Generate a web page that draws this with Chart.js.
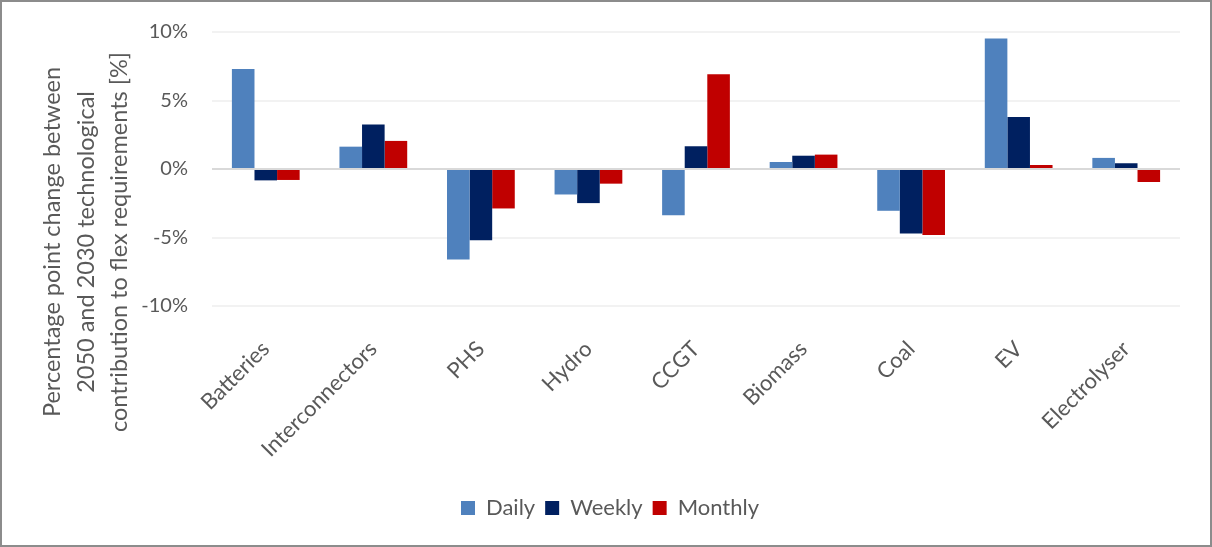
<!DOCTYPE html>
<html>
<head>
<meta charset="utf-8">
<script src="https://cdn.jsdelivr.net/npm/chart.js@4"></script>
<style>
  html, body { margin: 0; padding: 0; background: #fff; }
  #wrap {
    position: absolute; left: 0; top: 0;
    width: 1208px; height: 543px;
    border: 2px solid #8c8c8c;
  }
</style>
</head>
<body>
<div id="wrap"><canvas id="bar-chart" width="1208" height="543"></canvas></div>
<script>
// categories and series (percentage points)
const technologies = ["Batteries", "Interconnectors", "PHS", "Hydro", "CCGT", "Biomass", "Coal", "EV", "Electrolyser"];
const daily = [7.3, 1.63, -6.6, -1.86, -3.37, 0.51, -3.05, 9.52, 0.81];
const weekly = [-0.83, 3.25, -5.2, -2.49, 1.66, 0.97, -4.71, 3.79, 0.42];
const monthly = [-0.8, 2.05, -2.88, -1.07, 6.91, 1.05, -4.81, 0.29, -0.95];
const yTitle = [
  "Percentage point change between",
  "2050 and 2030 technological",
  "contribution to flex requirements [%]",
];

const textColor = "#595959";
const fontFamily = "Lato, 'Open Sans', sans-serif";

// y axis title drawn by hand so it can sit lower than the plot centre, like the original
const yTitlePlugin = {
  id: "yTitle",
  afterDraw(chart) {
    const ctx = chart.ctx;
    ctx.save();
    ctx.fillStyle = textColor;
    ctx.font = "23.5px " + fontFamily;
    ctx.textAlign = "center";
    ctx.textBaseline = "middle";
    const xs = [50, 84, 117];
    yTitle.forEach((line, i) => {
      ctx.save();
      ctx.translate(xs[i], 240);
      ctx.rotate(-Math.PI / 2);
      ctx.fillText(line, 0, 0);
      ctx.restore();
    });
    ctx.restore();
  },
};

const contenedorBarChart = document.querySelector("#bar-chart").getContext("2d");

const barChart = new Chart(contenedorBarChart, {
  type: "bar",
  data: {
    labels: technologies,
    datasets: [
      { label: "Daily", data: daily, backgroundColor: "#4F81BD" },
      { label: "Weekly", data: weekly, backgroundColor: "#002060" },
      { label: "Monthly", data: monthly, backgroundColor: "#C00000" },
    ],
  },
  plugins: [yTitlePlugin],
  options: {
    responsive: false,
    animation: false,
    layout: { padding: { left: 8, right: 0, top: 0, bottom: 16 } },
    datasets: { bar: { categoryPercentage: 0.63, barPercentage: 1.0 } },
    plugins: {
      legend: {
        position: "bottom",
        labels: {
          color: textColor,
          boxWidth: 14,
          boxHeight: 14,
          padding: 10,
          font: { family: fontFamily, size: 22 },
        },
      },
      tooltip: { enabled: false },
    },
    scales: {
      x: {
        grid: { display: false, drawTicks: false },
        border: { display: false },
        afterFit: (scale) => {
          scale.height = 181;
          scale.paddingRight = 30;
          scale.paddingLeft = 0;
        },
        ticks: {
          color: textColor,
          font: { family: fontFamily, size: 22 },
          minRotation: 45,
          maxRotation: 45,
          padding: 30,
        },
      },
      y: {
        min: -10,
        max: 10,
        border: { display: false },
        afterFit: (scale) => {
          scale.width = 202;
          scale.paddingTop = 30;
          scale.paddingBottom = 0;
        },
        grid: {
          drawTicks: false,
          lineWidth: 2,
          color: (ctx) => (ctx.tick && ctx.tick.value === 0 ? "#d9d9d9" : "#f2f2f2"),
        },
        ticks: {
          stepSize: 5,
          color: textColor,
          padding: 24,
          font: { family: fontFamily, size: 20 },
          callback: (v) => v + "%",
        },
      },
    },
  },
});
</script>
</body>
</html>
